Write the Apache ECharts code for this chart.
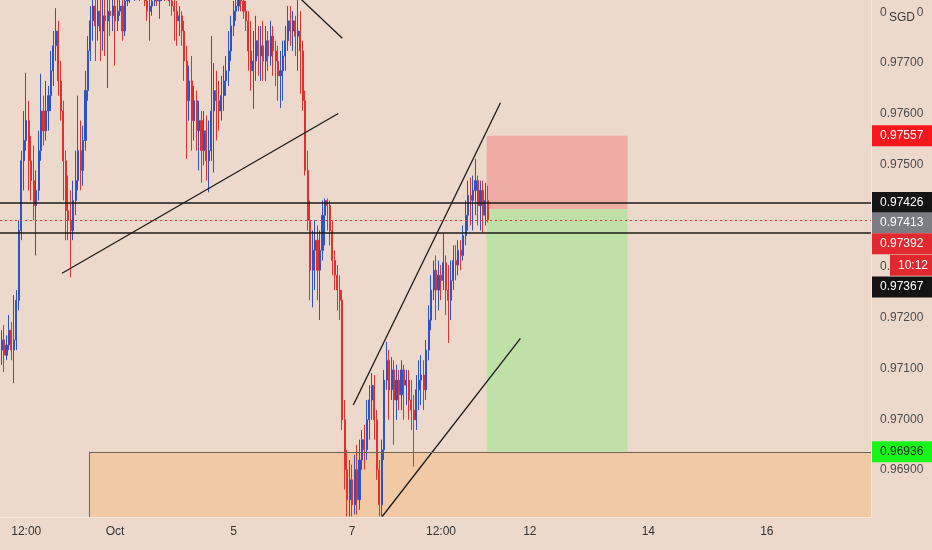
<!DOCTYPE html>
<html><head><meta charset="utf-8">
<script src="https://cdn.jsdelivr.net/npm/echarts@6/dist/echarts.min.js"></script>
<style>html,body{margin:0;padding:0;background:#edd9cc}#c{width:932px;height:550px}</style>
</head><body><div id="c"></div>
<script>
// ---- data ----
const firstCandleHour = -46; // hours relative to Oct 1 00:00 (trading time), 1h candles
// [open, close, low, high]
const candles = [
[0.97136,0.97156,0.97107,0.97175],[0.97156,0.97126,0.97093,0.97185],[0.97126,0.97146,0.97116,0.97165],[0.97146,0.97175,0.97136,0.97205],
[0.97175,0.97136,0.97116,0.97191],[0.97136,0.97156,0.97071,0.97244],[0.97156,0.97234,0.97136,0.97254],[0.97234,0.97371,0.97214,0.97391],
[0.97371,0.97508,0.97352,0.97528],[0.97508,0.97548,0.97450,0.97606],[0.97548,0.97587,0.97528,0.97681],[0.97587,0.97508,0.97450,0.97626],
[0.97508,0.97469,0.97430,0.97557],[0.97469,0.97420,0.97391,0.97538],[0.97420,0.97450,0.97322,0.97489],[0.97450,0.97528,0.97430,0.97567],
[0.97528,0.97606,0.97508,0.97679],[0.97606,0.97567,0.97538,0.97636],[0.97567,0.97606,0.97548,0.97665],[0.97606,0.97636,0.97567,0.97655],
[0.97636,0.97685,0.97606,0.97724],[0.97685,0.97734,0.97655,0.97763],[0.97734,0.97763,0.97704,0.97808],[0.97763,0.97665,0.97636,0.97783],
[0.97665,0.97606,0.97587,0.97704],[0.97606,0.97508,0.97430,0.97626],[0.97508,0.97410,0.97352,0.97528],[0.97410,0.97391,0.97352,0.97479],
[0.97391,0.97371,0.97279,0.97450],[0.97371,0.97430,0.97352,0.97469],[0.97430,0.97469,0.97401,0.97528],[0.97469,0.97528,0.97450,0.97636],
[0.97528,0.97489,0.97450,0.97587],[0.97489,0.97548,0.97459,0.97577],[0.97548,0.97646,0.97528,0.97685],[0.97646,0.97724,0.97626,0.97753],
[0.97724,0.97783,0.97704,0.97812],[0.97783,0.97812,0.97744,0.97842],[0.97812,0.97773,0.97704,0.97842],[0.97773,0.97802,0.97744,0.97842],
[0.97802,0.97763,0.97704,0.97832],[0.97763,0.97793,0.97724,0.97842],[0.97793,0.97783,0.97714,0.97842],[0.97783,0.97802,0.97651,0.97838],
[0.97802,0.97793,0.97753,0.97842],[0.97793,0.97812,0.97763,0.97842],[0.97812,0.97783,0.97695,0.97842],[0.97783,0.97802,0.97763,0.97832],
[0.97802,0.97812,0.97793,0.97842],[0.97812,0.97763,0.97744,0.97842],[0.97763,0.97822,0.97753,0.97842],[0.97822,0.97832,0.97812,0.97851],
[0.97832,0.97842,0.97818,0.97861],[0.97842,0.97832,0.97826,0.97871],[0.97832,0.97851,0.97822,0.97871],[0.97851,0.97842,0.97832,0.97871],
[0.97842,0.97832,0.97822,0.97861],[0.97832,0.97842,0.97826,0.97861],[0.97842,0.97822,0.97812,0.97861],[0.97822,0.97802,0.97783,0.97842],
[0.97802,0.97812,0.97744,0.97832],[0.97812,0.97822,0.97793,0.97842],[0.97822,0.97832,0.97812,0.97851],[0.97832,0.97822,0.97812,0.97851],
[0.97822,0.97832,0.97787,0.97842],[0.97832,0.97842,0.97822,0.97861],[0.97842,0.97832,0.97822,0.97861],[0.97832,0.97842,0.97826,0.97861],
[0.97842,0.97822,0.97812,0.97861],[0.97822,0.97812,0.97793,0.97842],[0.97812,0.97802,0.97744,0.97832],[0.97802,0.97783,0.97734,0.97822],
[0.97783,0.97793,0.97753,0.97812],[0.97793,0.97763,0.97734,0.97802],[0.97763,0.97704,0.97665,0.97783],[0.97704,0.97626,0.97512,0.97734],
[0.97626,0.97665,0.97587,0.97695],[0.97665,0.97587,0.97528,0.97714],[0.97587,0.97626,0.97548,0.97655],[0.97626,0.97567,0.97528,0.97646],
[0.97567,0.97587,0.97489,0.97626],[0.97587,0.97528,0.97465,0.97606],[0.97528,0.97567,0.97499,0.97606],[0.97567,0.97508,0.97469,0.97597],
[0.97508,0.97528,0.97446,0.97587],[0.97528,0.97606,0.97508,0.97753],[0.97606,0.97646,0.97485,0.97700],[0.97646,0.97626,0.97548,0.97685],
[0.97626,0.97606,0.97567,0.97665],[0.97606,0.97636,0.97587,0.97675],[0.97636,0.97665,0.97606,0.97695],[0.97665,0.97685,0.97636,0.97714],
[0.97685,0.97724,0.97655,0.97763],[0.97724,0.97773,0.97704,0.97793],[0.97773,0.97802,0.97753,0.97822],[0.97802,0.97812,0.97783,0.97842],
[0.97812,0.97832,0.97802,0.97851],[0.97832,0.97822,0.97802,0.97851],[0.97822,0.97802,0.97787,0.97842],[0.97802,0.97783,0.97763,0.97822],
[0.97783,0.97724,0.97685,0.97802],[0.97724,0.97685,0.97646,0.97783],[0.97685,0.97704,0.97610,0.97763],[0.97704,0.97744,0.97665,0.97793],
[0.97744,0.97714,0.97675,0.97773],[0.97714,0.97734,0.97665,0.97773],[0.97734,0.97704,0.97665,0.97783],[0.97704,0.97744,0.97665,0.97773],
[0.97744,0.97714,0.97685,0.97763],[0.97714,0.97753,0.97695,0.97783],[0.97753,0.97724,0.97675,0.97773],[0.97724,0.97704,0.97655,0.97744],
[0.97704,0.97675,0.97626,0.97734],[0.97675,0.97685,0.97612,0.97724],[0.97685,0.97714,0.97626,0.97744],[0.97714,0.97744,0.97685,0.97773],
[0.97744,0.97783,0.97724,0.97812],[0.97783,0.97763,0.97734,0.97812],[0.97763,0.97783,0.97724,0.97802],[0.97783,0.97753,0.97714,0.97793],
[0.97753,0.97763,0.97685,0.97832],[0.97763,0.97724,0.97640,0.97802],[0.97724,0.97626,0.97606,0.97744],[0.97626,0.97489,0.97479,0.97646],
[0.97489,0.97391,0.97371,0.97528],[0.97391,0.97293,0.97234,0.97430],[0.97293,0.97332,0.97220,0.97371],[0.97332,0.97352,0.97254,0.97391],
[0.97352,0.97293,0.97234,0.97381],[0.97293,0.97332,0.97195,0.97371],[0.97332,0.97401,0.97312,0.97430],[0.97401,0.97430,0.97342,0.97434],
[0.97430,0.97420,0.97371,0.97434],[0.97420,0.97371,0.97342,0.97430],[0.97371,0.97312,0.97283,0.97391],[0.97312,0.97283,0.97254,0.97332],
[0.97283,0.97254,0.97214,0.97303],[0.97254,0.97234,0.97195,0.97283],[0.97234,0.96999,0.96979,0.97254],[0.96999,0.96901,0.96862,0.97038],
[0.96901,0.96842,0.96809,0.96940],[0.96842,0.96881,0.96809,0.96920],[0.96881,0.96832,0.96809,0.96911],[0.96832,0.96901,0.96813,0.96930],
[0.96901,0.96842,0.96813,0.96950],[0.96842,0.96920,0.96822,0.96960],[0.96920,0.96960,0.96901,0.96979],[0.96960,0.96940,0.96901,0.96989],
[0.96940,0.96999,0.96920,0.97038],[0.96999,0.97038,0.96960,0.97067],[0.97038,0.97067,0.96999,0.97091],[0.97067,0.96999,0.96960,0.97087],
[0.96999,0.96901,0.96881,0.97018],[0.96901,0.96832,0.96809,0.96920],[0.96832,0.96940,0.96809,0.96960],[0.96940,0.97077,0.96920,0.97097],
[0.97077,0.97116,0.97058,0.97152],[0.97116,0.97058,0.96999,0.97136],[0.97058,0.97097,0.97038,0.97122],[0.97097,0.97038,0.96950,0.97116],
[0.97038,0.97077,0.96999,0.97107],[0.97077,0.97048,0.97018,0.97097],[0.97048,0.97097,0.97018,0.97116],[0.97097,0.97067,0.96999,0.97107],
[0.97067,0.97077,0.97028,0.97097],[0.97077,0.97038,0.96999,0.97097],[0.97038,0.97018,0.96979,0.97077],[0.97018,0.96999,0.96907,0.97048],
[0.96999,0.97058,0.96979,0.97087],[0.97058,0.97077,0.97018,0.97116],[0.97077,0.97087,0.97028,0.97126],[0.97087,0.97058,0.97018,0.97116],
[0.97058,0.97136,0.97038,0.97156],[0.97136,0.97195,0.97116,0.97224],[0.97195,0.97254,0.97175,0.97283],[0.97254,0.97293,0.97234,0.97312],
[0.97293,0.97254,0.97195,0.97322],[0.97254,0.97283,0.97214,0.97312],[0.97283,0.97273,0.97234,0.97303],[0.97273,0.97308,0.97254,0.97365],
[0.97308,0.97254,0.97205,0.97322],[0.97254,0.97234,0.97150,0.97303],[0.97234,0.97273,0.97195,0.97312],[0.97273,0.97312,0.97254,0.97342],
[0.97312,0.97303,0.97273,0.97342],[0.97303,0.97332,0.97283,0.97352],[0.97332,0.97322,0.97293,0.97352],[0.97322,0.97361,0.97312,0.97381],
[0.97361,0.97401,0.97342,0.97430],[0.97401,0.97440,0.97371,0.97469],[0.97440,0.97430,0.97381,0.97475],[0.97430,0.97450,0.97371,0.97479],
[0.97450,0.97469,0.97401,0.97512],[0.97469,0.97420,0.97381,0.97479],[0.97420,0.97450,0.97371,0.97469],[0.97450,0.97401,0.97367,0.97469],
[0.97401,0.97430,0.97381,0.97465],[0.97430,0.97392,0.97387,0.97459]
];
const timeTickHours = [-36, 0, 48, 96, 132, 168, 216, 264];
const timeTickLabels = ['12:00', 'Oct', '5', '7', '12:00', '12', '14', '16'];
const priceTicks = [0.969, 0.970, 0.971, 0.972, 0.973, 0.974, 0.975, 0.976, 0.977, 0.978];
const levelLines = [0.97426, 0.97367];
const currentPrice = 0.97392;
const entryPrice = 0.97413;
const stopPrice = 0.97557;
const targetPrice = 0.96936;
const positionHours = [150.5, 207.6];
const zoneStartHour = -10.5;
const zoneTop = 0.96936;
const trendLines = [
  [[-21.5, 0.97287], [90.4, 0.97601]],
  [[73.0, 0.97836], [92.05, 0.97749]],
  [[96.5, 0.97028], [156.1, 0.97622]],
  [[108.2, 0.96809], [164.2, 0.97159]]
];
const countdownText = '10:12';
const currencyText = 'SGD';
const xRange = [-46.63, 306.2];
const yRange = [0.96808, 0.97824];

// ---- chart ----
const BG = '#edd9cc';
const FONT = 'Liberation Sans';
const chart = echarts.init(document.getElementById('c'), null, {renderer: 'canvas'});

const candleData = candles.map((c, i) => [firstCandleHour + i, c[0], c[1], c[2], c[3]]);

function tag(value, bg, fg, dy, text, dx, w) {
  return {
    coord: [xRange[1], value],
    label: {
      show: true, position: 'right', distance: 1 + (dx || 0),
      offset: [0, dy || 0],
      formatter: text || value.toFixed(5),
      backgroundColor: bg, color: fg,
      fontFamily: FONT, fontSize: 12, lineHeight: 14,
      padding: [4, 6, 3, 8], width: w || 46, align: 'left'
    }
  };
}
function hLine(v, style) {
  return [{coord: [xRange[0], v], lineStyle: style}, {coord: [xRange[1], v]}];
}

const option = {
  backgroundColor: BG,
  animation: false,
  grid: {left: 0, right: 61, top: 0, bottom: 33, containLabel: false},
  xAxis: {
    type: 'value', min: xRange[0], max: xRange[1],
    axisLine: {show: true, onZero: false, lineStyle: {color: '#f3e8e0', width: 1}},
    axisTick: {show: false},
    splitLine: {show: false},
    axisLabel: {
      customValues: timeTickHours,
      formatter: v => { const i = timeTickHours.indexOf(v); return i >= 0 ? timeTickLabels[i] : ''; },
      color: '#333333', fontFamily: FONT, fontSize: 12, margin: 9
    }
  },
  yAxis: {
    type: 'value', position: 'right', min: yRange[0], max: yRange[1], scale: true,
    axisLine: {show: true, onZero: false, lineStyle: {color: '#f3e8e0', width: 1}},
    axisTick: {show: false},
    splitLine: {show: false},
    axisLabel: {
      customValues: priceTicks,
      formatter: v => v.toFixed(5),
      color: '#4a4a4a', fontFamily: FONT, fontSize: 12, margin: 9
    }
  },
  series: [
    {
      type: 'line', data: [], z: 1, silent: true,
      markArea: {
        silent: true,
        data: [
          [{xAxis: zoneStartHour, yAxis: zoneTop, itemStyle: {color: '#f1c9a5'}}, {xAxis: xRange[1], yAxis: yRange[0]}],
          [{xAxis: positionHours[0], yAxis: stopPrice, itemStyle: {color: '#efaca4'}}, {xAxis: positionHours[1], yAxis: entryPrice}],
          [{xAxis: positionHours[0], yAxis: entryPrice, itemStyle: {color: '#bfe0a6'}}, {xAxis: positionHours[1], yAxis: targetPrice}]
        ]
      },
      markLine: {
        silent: true, symbol: 'none', label: {show: false},
        lineStyle: {color: '#6f655c', width: 1, type: 'solid'},
        data: [
          [{coord: [zoneStartHour, zoneTop]}, {coord: [xRange[1], zoneTop]}],
          [{coord: [zoneStartHour, zoneTop]}, {coord: [zoneStartHour, yRange[0]]}]
        ]
      }
    },
    {
      type: 'candlestick', z: 2,
      data: candleData,
      encode: {x: 0, y: [1, 2, 3, 4]},
      barWidth: 1.6,
      itemStyle: {
        color: '#2f52c4', color0: '#e2302c',
        borderColor: '#2f52c4', borderColor0: '#e2302c', borderWidth: 1
      }
    },
    ...trendLines.map(seg => ({
      type: 'line', z: 3, data: seg, symbol: 'none', silent: true,
      lineStyle: {color: '#1e1a17', width: 1.3}
    })),
    {
      type: 'line', data: [], z: 4, silent: true,
      markLine: {
        silent: true, symbol: 'none', label: {show: false},
        data: [
          hLine(levelLines[0], {color: '#1c1a18', width: 1.6, type: 'solid'}),
          hLine(levelLines[1], {color: '#1c1a18', width: 1.6, type: 'solid'}),
          hLine(currentPrice, {color: '#e53935', width: 1, type: [2, 3]})
        ]
      }
    },
    {
      type: 'line', data: [], z: 6, silent: true,
      markPoint: {
        symbol: 'rect', symbolSize: 0, silent: true,
        data: [
          tag(stopPrice, '#f7161c', '#ffffff', 0),
          tag(levelLines[0], '#141414', '#ffffff', 0),
          tag(entryPrice, '#7b7c84', '#ffffff', 13.5),
          tag(currentPrice, '#e0282e', '#ffffff', 24),
          tag(currentPrice, '#e0282e', '#ffffff', 45.5, countdownText, 18, 31),
          tag(levelLines[1], '#141414', '#ffffff', 54.5),
          tag(targetPrice, '#18f518', '#1d2a1d', 0)
        ]
      }
    }
  ],
  graphic: [
    {type: 'rect', shape: {x: 887, y: 4, width: 30, height: 24}, style: {fill: BG}, z: 100},
    {type: 'text', x: 902, y: 18, style: {text: currencyText, fill: '#3b3b3b', font: '12px ' + FONT, align: 'center', verticalAlign: 'middle'}, z: 101}
  ]
};
chart.setOption(option);
</script>
</body></html>
